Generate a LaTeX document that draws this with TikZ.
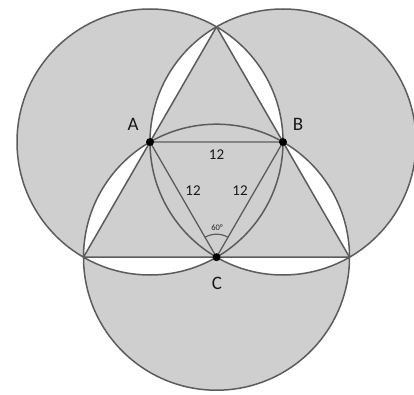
\documentclass[tikz,border=0pt]{standalone}
\usepackage{fontspec}
\setmainfont{Carlito}
\usetikzlibrary{calc}
\begin{document}
\begin{tikzpicture}[x=1pt,y=1pt,line join=round]
\definecolor{fillgray}{RGB}{208,207,208}
\definecolor{linegray}{RGB}{92,92,92}
\tikzset{
  outline/.style={draw=linegray,line width=1.5pt},
  dot/.style={circle,fill=black,inner sep=0pt,minimum size=8pt},
  ptlabel/.style={font=\fontsize{19}{19}\selectfont,text=black!90},
  lenlabel/.style={font=\fontsize{15}{15}\selectfont,text=black!90},
  anglabel/.style={font=\fontsize{8.5}{8.5}\selectfont,text=black!85}
}
\useasboundingbox (0,0) rectangle (414,394);
\fill[white] (0,0) rectangle (414,394);
\def\rr{133pt}
\coordinate (A) at (150,252);
\coordinate (B) at (283,252);
\coordinate (C) at (216.5,136.8);
\coordinate (T) at (216.5,367.2);
\coordinate (L) at (83.5,136.8);
\coordinate (R) at (349.5,136.8);
% union of the circles
\fill[fillgray] (A) circle[radius=\rr] (B) circle[radius=\rr] (C) circle[radius=\rr];
% pairwise overlaps white
\begin{scope}
  \clip (A) circle[radius=\rr];
  \fill[white] (B) circle[radius=\rr] (C) circle[radius=\rr];
\end{scope}
\begin{scope}
  \clip (B) circle[radius=\rr];
  \fill[white] (C) circle[radius=\rr];
\end{scope}
% triangle gray again
\fill[fillgray] (T) -- (L) -- (R) -- cycle;
% outlines
\draw[outline] (A) circle[radius=\rr] (B) circle[radius=\rr] (C) circle[radius=\rr];
\draw[outline] (T) -- (L) -- (R) -- cycle;
\draw[outline,line width=1.3pt] (A) -- (B) -- (C) -- cycle;
% angle mark
\draw[outline,line width=1.2pt] ($(C)+(60:23)$) arc[start angle=60,end angle=120,radius=23pt];
% points
\node[dot] (pA) at (A) {};
\node[dot] (pB) at (B) {};
\node[dot] (pC) at (C) {};
% labels
\node[ptlabel] (lA) at (133,270) {A};
\node[ptlabel] (lB) at (298,270) {B};
\node[ptlabel] (lC) at (217,111) {C};
\node[lenlabel] (lAB) at (216.5,239) {12};
\node[lenlabel] (lAC) at (193,203) {12};
\node[lenlabel] (lBC) at (240,203) {12};
\node[anglabel] (l60) at (217,166) {60°};
\end{tikzpicture}
\end{document}
